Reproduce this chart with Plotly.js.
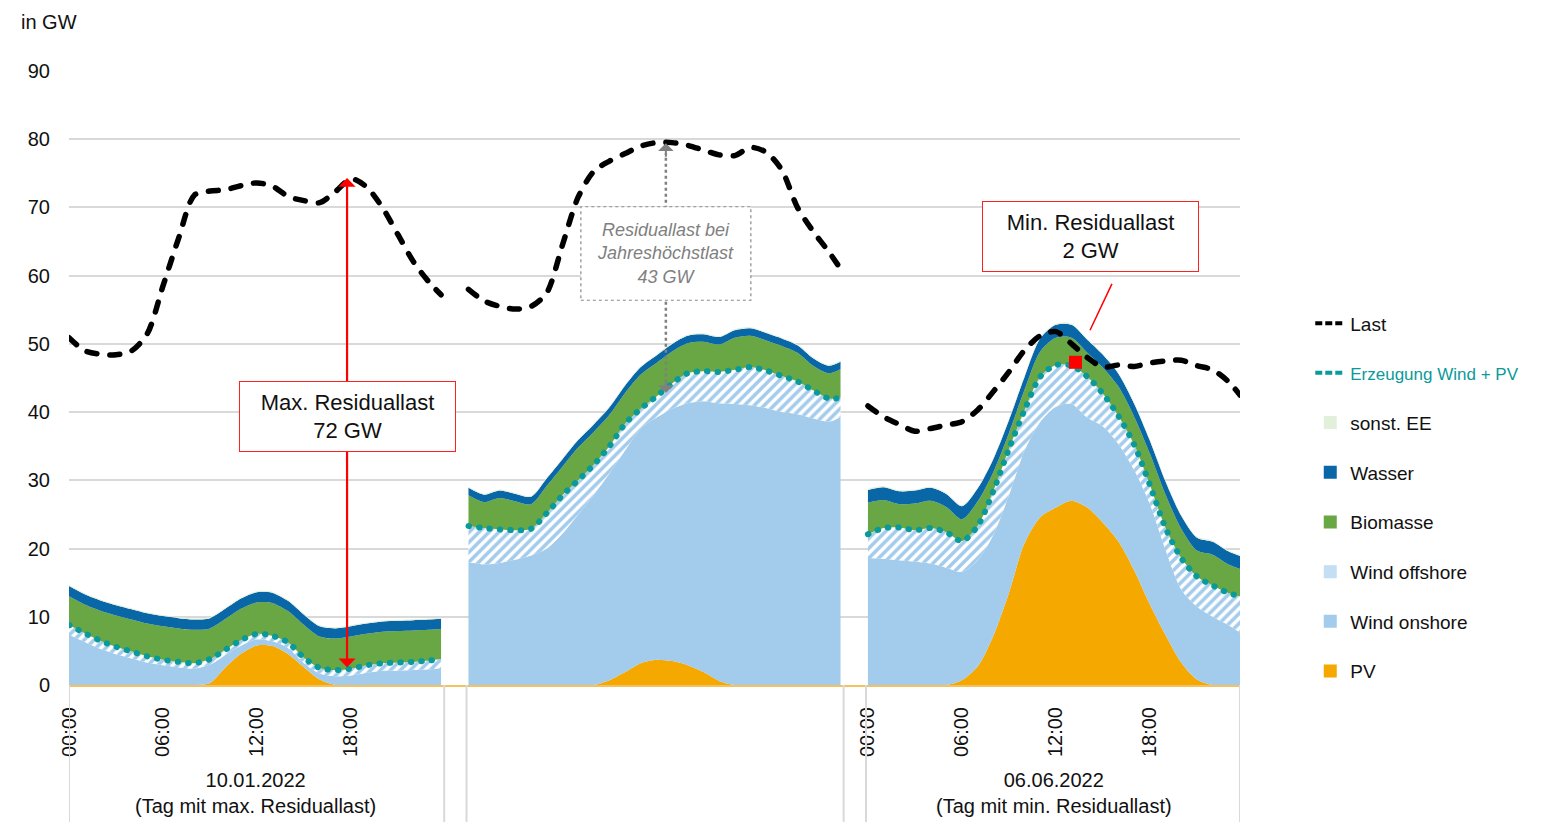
<!DOCTYPE html>
<html>
<head>
<meta charset="utf-8">
<script src="https://cdn.plot.ly/plotly-3.0.1.min.js"></script>
<style>
html,body{margin:0;padding:0;background:#fff;}
#chart{width:1555px;height:822px;}
.cartesianlayer .js-line{stroke-linecap:round;stroke-linejoin:round;}
</style>
</head>
<body>
<div id="chart"></div>
<script>
// ---------------- DATA ----------------
// hour of day of each reading (last reading = 23:45)
const hours = [0,1,2,3,4,5,6,7,8,9,10,11,12,13,14,15,16,17,18,19,20,21,22,23,23.75];
const dayLabels = ['10.01.2022<br>(Tag mit max. Residuallast)', '', '06.06.2022<br>(Tag mit min. Residuallast)'];
const tickHours = [0, 6, 12, 18];
const tickLabels = ['00:00', '06:00', '12:00', '18:00'];
const daysWithTimeLabels = [0, 2];

// Last (load) in GW, per day
const last = [
  [50.9,49.0,48.5,48.4,49.0,51.5,58.5,65.5,71.8,72.4,72.6,73.2,73.6,73.1,71.6,71.0,70.7,72.3,74.2,73.0,70.0,66.0,62.0,59.0,57.2],
  [58.0,56.3,55.5,55.1,55.5,57.5,64.5,71.5,75.3,76.8,77.9,79.0,79.5,79.5,79.1,78.4,77.7,77.6,78.8,78.1,75.5,70.0,66.5,63.5,61.0],
  [40.9,39.3,38.2,37.2,37.6,38.1,38.6,40.3,43.0,45.9,49.1,51.2,51.8,50.0,48.0,46.6,46.9,46.7,47.2,47.5,47.6,46.8,46.2,44.5,42.5]
];
const pv = [
  [0,0,0,0,0,0,0,0,0,0.3,2.6,4.6,5.8,5.7,4.5,2.6,0.8,0,0,0,0,0,0,0,0],
  [0,0,0,0,0,0,0,0,0,0.7,1.9,3.2,3.7,3.5,2.9,1.9,0.6,0,0,0,0,0,0,0,0],
  [0,0,0,0,0,0,0.7,2.7,7.2,13.5,20.8,24.6,26.0,27.0,26.0,23.8,21.0,16.8,11.8,7.3,3.3,0.8,0,0,0]
];
const windOnshore = [
  [7.4,6.3,5.3,4.5,3.9,3.3,2.9,2.6,2.4,2.7,1.8,1.2,0.9,0.7,0.9,0.6,0.9,1.3,1.4,1.8,2.1,2.1,2.2,2.3,2.5],
  [18.0,17.7,17.9,18.4,19.0,20.0,22.2,25.0,27.9,30.3,32.5,34.4,35.5,37.0,38.4,39.7,40.7,41.2,41.0,40.6,40.0,39.7,39.1,38.6,39.3],
  [18.6,18.5,18.3,18.1,17.8,17.2,15.9,15.6,14.8,14.3,13.6,14.0,14.8,14.2,13.2,14.1,14.3,14.7,14.7,12.5,10.7,10.7,10.0,8.8,7.7]
];
const windOffshore = [
  [1.4,1.3,1.2,1.1,1.0,0.9,0.8,0.8,0.8,0.8,0.8,0.8,0.8,0.8,0.8,0.8,0.8,0.9,1.0,1.1,1.1,1.2,1.2,1.3,1.3],
  [5.3,5.3,4.9,4.3,3.9,5.2,5.6,5.0,4.4,4.0,3.9,2.9,3.1,3.7,4.4,4.4,4.6,5.0,5.6,5.5,5.3,4.8,4.1,3.4,2.8],
  [3.5,4.5,4.8,4.6,5.2,5.2,4.5,5.0,6.4,6.8,5.9,6.6,6.1,5.6,6.0,4.8,4.1,3.7,2.8,3.2,4.6,4.4,4.6,4.7,5.3]
];
const biomasse = [
  [4.2,4.2,4.4,4.6,4.7,4.8,4.9,4.9,4.9,4.5,4.5,4.6,4.6,4.8,4.6,4.8,4.6,4.6,4.7,4.6,4.6,4.6,4.6,4.5,4.4],
  [4.5,3.8,4.6,4.2,3.6,4.0,4.2,4.8,4.8,4.6,4.5,5.0,4.9,4.7,4.4,4.3,4.0,4.7,4.6,4.4,4.4,4.2,3.6,3.7,4.2],
  [4.6,4.1,3.4,3.9,4.0,3.7,3.2,3.6,2.8,2.3,3.0,3.7,4.0,4.1,3.5,3.8,4.3,4.1,4.6,4.9,4.3,3.8,4.5,4.2,4.0]
];
const wasser = [
  [1.5,1.5,1.5,1.5,1.5,1.5,1.5,1.5,1.5,1.5,1.5,1.5,1.5,1.5,1.5,1.5,1.5,1.5,1.5,1.5,1.5,1.5,1.5,1.5,1.5],
  [1.1,1.1,1.1,1.1,1.1,1.1,1.1,1.1,1.1,1.1,1.1,1.1,1.1,1.1,1.1,1.1,1.1,1.1,1.1,1.1,1.1,1.1,1.1,1.1,1.1],
  [1.9,1.9,1.9,1.9,1.9,1.9,1.9,1.9,1.9,1.9,1.9,1.9,1.9,1.9,1.9,1.9,1.9,1.9,1.9,1.9,1.9,1.9,1.9,1.9,1.9]
];
const sonstEE = [
  [0.15,0.15,0.15,0.15,0.15,0.15,0.15,0.15,0.15,0.15,0.15,0.15,0.15,0.15,0.15,0.15,0.15,0.15,0.15,0.15,0.15,0.15,0.15,0.15,0.15],
  [0.15,0.15,0.15,0.15,0.15,0.15,0.15,0.15,0.15,0.15,0.15,0.15,0.15,0.15,0.15,0.15,0.15,0.15,0.15,0.15,0.15,0.15,0.15,0.15,0.15],
  [0.15,0.15,0.15,0.15,0.15,0.15,0.15,0.15,0.15,0.15,0.15,0.15,0.15,0.15,0.15,0.15,0.15,0.15,0.15,0.15,0.15,0.15,0.15,0.15,0.15]
];
// annotated points: [day index, hour, value]
const maxResTop = [0, 17.75, 74.3];
const maxResBottom = [0, 17.75, 2.4];
const peakTop = [1, 12.6, 79.4];
const peakBottom = [1, 12.6, 42.8];
const minResPoint = [2, 13.25, 47.3];

// ---------------- LAYOUT HELPERS ----------------
const FONT = 'Liberation Sans, Arial, sans-serif';
const Q = 4;                       // x units per hour (quarter hours)
const dayOffsets = [0, 102, 204];  // start of each day block on the category axis
const XMAX = 299;
const xOf = (d, h) => dayOffsets[d] + Q * h;
const xs = d => hours.map(h => xOf(d, h));

const series = [
  {name:'PV', data:pv, color:'#f5a800', rank:8},
  {name:'Wind onshore', data:windOnshore, color:'#a3cbeb', rank:7},
  {name:'Wind offshore', data:windOffshore, color:'#a3cbeb', pattern:true, legendColor:'#c4def3', rank:6},
  {name:'Biomasse', data:biomasse, color:'#68a743', rank:5},
  {name:'Wasser', data:wasser, color:'#0a67a7', rank:4},
  {name:'sonst. EE', data:sonstEE, color:'#e2efda', rank:3}
];

const traces = [];
for (let d = 0; d < 3; d++) {
  series.forEach(s => {
    const t = {
      type:'scatter', mode:'lines', x: xs(d), y: s.data[d],
      stackgroup:'day' + d, legendgroup:s.name, showlegend:false,
      line:{width:0, shape:'spline', smoothing:0.8, color:s.color},
      fillcolor:s.color, hoverinfo:'skip'
    };
    if (s.pattern) {
      t.fillpattern = {shape:'/', fgcolor:'#a3cbeb', bgcolor:'#ffffff', size:7, solidity:0.5};
    }
    traces.push(t);
  });
}

// concatenated line series with gaps between days
function joined(fn) {
  const X = [], Y = [];
  for (let d = 0; d < 3; d++) {
    hours.forEach((h, i) => { X.push(xOf(d, h)); Y.push(fn(d, i)); });
    X.push(xOf(d, 24.5)); Y.push(null);
  }
  return {X, Y};
}
const lastLine = joined((d, i) => last[d][i]);
const erzLine = joined((d, i) => Math.round((pv[d][i] + windOnshore[d][i] + windOffshore[d][i]) * 10) / 10);

traces.push({
  type:'scatter', mode:'lines', x: erzLine.X, y: erzLine.Y, showlegend:false,
  legendgroup:'erz', line:{color:'#0a9a9a', width:6, dash:'0.5px,10px', shape:'spline', smoothing:0.8},
  connectgaps:false, hoverinfo:'skip'
});
traces.push({
  type:'scatter', mode:'lines', x: lastLine.X, y: lastLine.Y, showlegend:false,
  legendgroup:'last', line:{color:'#000000', width:5.5, dash:'10px,13px', shape:'spline', smoothing:0.8},
  connectgaps:false, hoverinfo:'skip'
});
traces.push({
  type:'scatter', mode:'markers', x:[xOf(minResPoint[0], minResPoint[1])], y:[minResPoint[2]],
  marker:{symbol:'square', size:13, color:'#ff0000'}, showlegend:false, hoverinfo:'skip'
});

// legend entries
traces.push({type:'scatter', mode:'lines', x:[null], y:[null], name:'Last', legendgroup:'last', legendrank:1,
  line:{color:'#000', width:4, dash:'7px,3px'}});
traces.push({type:'scatter', mode:'lines', x:[null], y:[null], legendgroup:'erz', legendrank:2,
  name:'<span style="color:#0a9a9a;font-size:17px">Erzeugung Wind + PV</span>',
  line:{color:'#0a9a9a', width:4, dash:'7px,3px'}});
series.forEach(s => {
  traces.push({type:'scatter', mode:'markers', x:[null], y:[null], name:s.name, legendgroup:s.name,
    legendrank:s.rank, marker:{symbol:'square', size:13, color:s.legendColor || s.color}});
});

// ---------------- ANNOTATIONS / SHAPES ----------------
const annotations = [];
const shapes = [];

annotations.push({xref:'paper', yref:'paper', x:-0.043, y:1.08, xanchor:'left', yanchor:'middle',
  text:'in GW', showarrow:false, font:{family:FONT, size:20, color:'#111'}});

dayLabels.forEach((t, d) => {
  if (!t) return;
  annotations.push({xref:'x', yref:'paper', x:xOf(d, 11.9), y:-0.134, xanchor:'center', yanchor:'top',
    text:t, showarrow:false, font:{family:FONT, size:20, color:'#111'}});
});

// category separators below the axis
[0, 95.8, 101.5, 197.8, 203.5, XMAX].forEach(xv => {
  shapes.push({type:'line', xref:'x', yref:'paper', x0:xv, x1:xv, y0:0, y1:-0.23,
    line:{color:'#d9d9d9', width:2}});
});

// max residual load: red double arrow + box
const xMax = xOf(maxResTop[0], maxResTop[1]);
annotations.push({xref:'x', yref:'y', axref:'x', ayref:'y', x:xMax, y:maxResTop[2], ax:xMax, ay:maxResBottom[2],
  text:'', showarrow:true, arrowhead:1, startarrowhead:1, arrowside:'end+start', arrowsize:1.3, startarrowsize:1.3,
  arrowwidth:2.2, arrowcolor:'#ff0000'});
annotations.push({xref:'x', yref:'y', x:xMax, y:39.4, text:'Max. Residuallast<br>72 GW', showarrow:false,
  font:{family:FONT, size:22, color:'#111'}, bgcolor:'#ffffff', bordercolor:'#ff2020', borderwidth:1,
  width:213, height:67, borderpad:1});

// annual peak: grey dotted double arrow + dotted box
const xPk = xOf(peakTop[0], peakTop[1]);
shapes.push({type:'line', xref:'x', yref:'y', x0:xPk, x1:xPk, y0:peakBottom[2] + 1.5, y1:peakTop[2] - 1.5,
  line:{color:'#808080', width:2.5, dash:'dot'}, layer:'above'});
shapes.push({type:'rect', xref:'x', yref:'y', x0:xPk - 21.7, x1:xPk + 21.7, y0:56.4, y1:70.1,
  line:{color:'#8a8a8a', width:1.2, dash:'dot'}, fillcolor:'#ffffff', layer:'above'});
annotations.push({xref:'x', yref:'y', x:xPk, y:peakTop[2], ax:0, ay:15, text:'', showarrow:true,
  arrowhead:1, arrowsize:1.3, arrowwidth:2, arrowcolor:'#808080'});
annotations.push({xref:'x', yref:'y', x:xPk, y:peakBottom[2], ax:0, ay:-15, text:'', showarrow:true,
  arrowhead:1, arrowsize:1.3, arrowwidth:2, arrowcolor:'#808080'});
annotations.push({xref:'x', yref:'y', x:xPk, y:63.25, text:'Residuallast bei<br>Jahreshöchstlast<br>43 GW',
  showarrow:false, font:{family:FONT, size:18, color:'#808080', style:'italic'}});

// min residual load: box + leader line
const xMin = xOf(minResPoint[0], minResPoint[1]);
shapes.push({type:'line', xref:'x', yref:'y', x0:xMin + 9.3, y0:58.8, x1:xMin + 3.7, y1:52.0,
  line:{color:'#ff0000', width:1.5}, layer:'above'});
annotations.push({xref:'x', yref:'y', x:xMin + 3.7, y:65.7, text:'Min. Residuallast<br>2 GW', showarrow:false,
  font:{family:FONT, size:22, color:'#111'}, bgcolor:'#ffffff', bordercolor:'#ff2020', borderwidth:1,
  width:213, height:67, borderpad:1});

// x tick values
const tickvals = [], ticktext = [];
daysWithTimeLabels.forEach(d => tickHours.forEach((h, i) => { tickvals.push(xOf(d, h)); ticktext.push(tickLabels[i]); }));

const layout = {
  width:1555, height:822,
  margin:{l:69, r:315, t:71, b:137},
  paper_bgcolor:'#ffffff', plot_bgcolor:'#ffffff',
  font:{family:FONT, size:20, color:'#111'},
  showlegend:true,
  legend:{x:1.06, y:0.62, xanchor:'left', yanchor:'top', traceorder:'grouped', tracegroupgap:22,
    font:{family:FONT, size:19, color:'#111'}, bgcolor:'rgba(0,0,0,0)', itemwidth:30},
  xaxis:{range:[0, XMAX], showgrid:false, zeroline:false, showline:true, linecolor:'#f5c160', linewidth:2,
    tickmode:'array', tickvals:tickvals, ticktext:ticktext, tickangle:-90, ticks:'',
    tickfont:{family:FONT, size:20, color:'#111'}, ticklabelstandoff:12, fixedrange:true},
  yaxis:{range:[0, 90], dtick:10, showgrid:true, gridcolor:'#d9d9d9', gridwidth:2, zeroline:false,
    showline:false, ticks:'', tickfont:{family:FONT, size:20, color:'#111'}, ticklabelstandoff:18, fixedrange:true},
  annotations:annotations,
  shapes:shapes
};

Plotly.newPlot('chart', traces, layout, {displayModeBar:false, staticPlot:true});
</script>
</body>
</html>
